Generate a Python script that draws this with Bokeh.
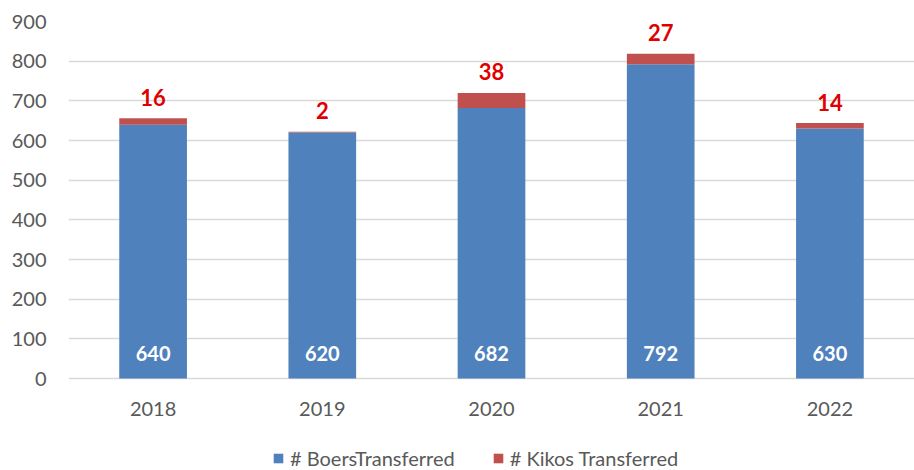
from bokeh.plotting import figure
from bokeh.models import ColumnDataSource, Legend, LegendItem, FixedTicker
from bokeh.core.properties import value
from bokeh.embed import file_html
from bokeh.resources import INLINE

years = ["2018", "2019", "2020", "2021", "2022"]
boers = [640, 620, 682, 792, 630]
kikos = [16, 2, 38, 27, 14]
y_ticks = [0, 100, 200, 300, 400, 500, 600, 700, 800, 900]

BLUE = "#4F81BD"
RED = "#C0504D"
FONT = "Lato"
GREY = "#595959"

# frame spans the whole height below the top border; 0..900 occupies 357px
PX_PER_UNIT = 357 / 900.0
Y_MIN = -92 / PX_PER_UNIT

totals = [b + k for b, k in zip(boers, kikos)]
src = ColumnDataSource(dict(
    years=years, boers=boers, kikos=kikos,
    white_y=[25 / PX_PER_UNIT] * len(years),
    red_y=[t + 21 / PX_PER_UNIT for t in totals],
    cat_y=[-30 / PX_PER_UNIT] * len(years),
    boers_txt=[str(v) for v in boers],
    kikos_txt=[str(v) for v in kikos],
))

p = figure(x_range=years, y_range=(Y_MIN, 900),
           width=914, height=470, x_axis_location=None,
           output_backend="svg", toolbar_location=None,
           min_border_left=68, min_border_right=0, min_border_top=21, min_border_bottom=0)
p.outline_line_color = None
p.background_fill_color = "white"

r = p.vbar_stack(["boers", "kikos"], x="years", width=0.4, source=src,
                 color=[BLUE, RED], line_color=None)

p.text(x="years", y="white_y", text="boers_txt", source=src,
       text_align="center", text_baseline="middle", text_color="white",
       text_font=value(FONT), text_font_style="bold", text_font_size="20px")
p.text(x="years", y="red_y", text="kikos_txt", source=src,
       text_align="center", text_baseline="middle", text_color="#E00000",
       text_font=value(FONT), text_font_style="bold", text_font_size="22px")
# category labels (x axis)
p.text(x="years", y="cat_y", text="years", source=src,
       text_align="center", text_baseline="middle", text_color=GREY,
       text_font=value(FONT), text_font_size="20px")

p.yaxis.ticker = FixedTicker(ticks=y_ticks)
ax = p.yaxis[0]
ax.axis_line_color = None
ax.major_tick_line_color = None
ax.minor_tick_line_color = None
ax.major_tick_out = 0
ax.major_tick_in = 0
ax.minor_tick_out = 0
ax.minor_tick_in = 0
ax.major_label_text_font = FONT
ax.major_label_text_font_size = "20px"
ax.major_label_text_color = GREY
ax.major_label_standoff = 22
p.xgrid.grid_line_color = None
p.ygrid.grid_line_color = "#D9D9D9"
p.ygrid.grid_line_width = 1.5

legend = Legend(items=[LegendItem(label="# BoersTransferred", renderers=[r[0]]),
                       LegendItem(label="# Kikos Transferred", renderers=[r[1]])],
                orientation="horizontal", location=(204, 0),
                label_text_font=FONT, label_text_font_size="20px",
                label_text_color=GREY, glyph_width=12, glyph_height=12,
                spacing=37, border_line_color=None, margin=0, padding=0,
                label_standoff=6, background_fill_alpha=0)
p.add_layout(legend)

open("out.html", "w").write(file_html(p, INLINE))
